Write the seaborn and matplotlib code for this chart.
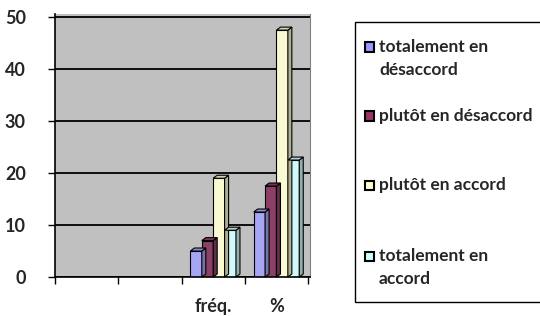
import numpy as np
import pandas as pd
import matplotlib
matplotlib.use('Agg')
import matplotlib.pyplot as plt
import matplotlib.colors as mcolors
from matplotlib.patches import Polygon, Rectangle
import seaborn as sns

# data
categories = ['c1', 'c2', 'fréq.', '%']
tick_labels = ['', '', 'fréq.', '%']
series = ['totalement en désaccord', 'plutôt en désaccord',
          'plutôt en accord', 'totalement en accord']
legend_labels = ['totalement en\ndésaccord', 'plutôt en désaccord',
                 'plutôt en accord', 'totalement en\naccord']
freq_values = [5, 7, 19, 9]
pct_values = [12.5, 17.5, 47.5, 22.5]
colors = ['#9999FF', '#993366', '#FFFFCC', '#CCFFFF']
y_ticks = [0, 10, 20, 30, 40, 50]

df = pd.DataFrame({
    'cat': ['fréq.'] * 4 + ['%'] * 4,
    'serie': series * 2,
    'val': freq_values + pct_values,
})

sns.set_style('white')
plt.rcParams['font.family'] = ['Lato', 'DejaVu Sans']
plt.rcParams['font.weight'] = 'bold'

fig = plt.figure(figsize=(5.4, 3.16), dpi=100)
ax = fig.add_axes([55 / 540, 39 / 316, 255 / 540, 263 / 316])
ax.set_facecolor('#C0C0C0')

sns.barplot(data=df, x='cat', y='val', hue='serie', order=categories,
            hue_order=series, palette=colors, width=0.72,
            edgecolor='black', linewidth=0.8, legend=False, ax=ax)

ax.set_ylim(0, 50.6)
ax.set_xlim(-0.5, 3.53)
ax.set_yticks(y_ticks)
ax.yaxis.grid(True, color='black', linewidth=1.3)
ax.set_axisbelow(True)

# category boundaries as ticks, labels at centres
bounds = np.arange(len(categories) + 1) - 0.5
ax.set_xticks(bounds)
ax.set_xticklabels([''] * len(bounds))
ax.set_xticks(np.arange(len(categories)), minor=True)
ax.set_xticklabels(tick_labels, minor=True, fontsize=13, fontweight='bold')
ax.tick_params(axis='x', which='major', length=5, width=1, color='black', direction='out')
ax.tick_params(axis='x', which='minor', length=0, pad=15)
ax.tick_params(axis='y', length=5, width=1, color='black', pad=16, labelsize=13)
for lab in ax.get_yticklabels():
    lab.set_fontweight('bold')
ax.set_xlabel('')
ax.set_ylabel('')
ax.tick_params(left=True, bottom=True)

ax.spines['top'].set_visible(False)
ax.spines['right'].set_color('#808080')
ax.spines['left'].set_color('black')
ax.spines['left'].set_linewidth(1.2)
ax.spines['bottom'].set_color('black')
ax.spines['bottom'].set_linewidth(1.2)

# fake 3D depth on each bar, derived from the drawn bars
dx, dy = 4, 3
to_disp = ax.transData
to_data = ax.transData.inverted()
for p in list(ax.patches):
    h = p.get_height()
    if not np.isfinite(h) or h == 0:
        continue
    x0, w = p.get_x(), p.get_width()
    fc = np.array(mcolors.to_rgb(p.get_facecolor()))
    (ax0, ay0), (ax1, ay1) = to_disp.transform([(x0, 0), (x0 + w, h)])
    side = [(ax1, ay0), (ax1, ay1), (ax1 + dx, ay1 + dy), (ax1 + dx, ay0 + dy)]
    top = [(ax0, ay1), (ax1, ay1), (ax1 + dx, ay1 + dy), (ax0 + dx, ay1 + dy)]
    ax.add_patch(Polygon(to_data.transform(side), closed=True, facecolor=fc * 0.7,
                         edgecolor='black', linewidth=0.8, clip_on=False))
    ax.add_patch(Polygon(to_data.transform(top), closed=True, facecolor=fc * 0.85,
                         edgecolor='black', linewidth=0.8, clip_on=False))

# legend box drawn like the Excel one
W, H = 540, 316
fig.patches.append(Rectangle((355 / W, 1 - 302 / H), 200 / W, 280 / H,
                             transform=fig.transFigure, facecolor='white',
                             edgecolor='black', linewidth=1))
entry_y = [47, 116, 185, 256]
for lab, col, yy in zip(legend_labels, colors, entry_y):
    fig.patches.append(Rectangle((365 / W, 1 - (yy + 4.5) / H), 9 / W, 9 / H,
                                 transform=fig.transFigure, facecolor=col,
                                 edgecolor='black', linewidth=1.5))
    for i, line in enumerate(lab.split('\n')):
        fig.text(379 / W, 1 - (yy + 23 * i) / H, line, fontsize=12.5,
                 fontweight='bold', va='center', ha='left')

fig.savefig('out.png', dpi=100)
